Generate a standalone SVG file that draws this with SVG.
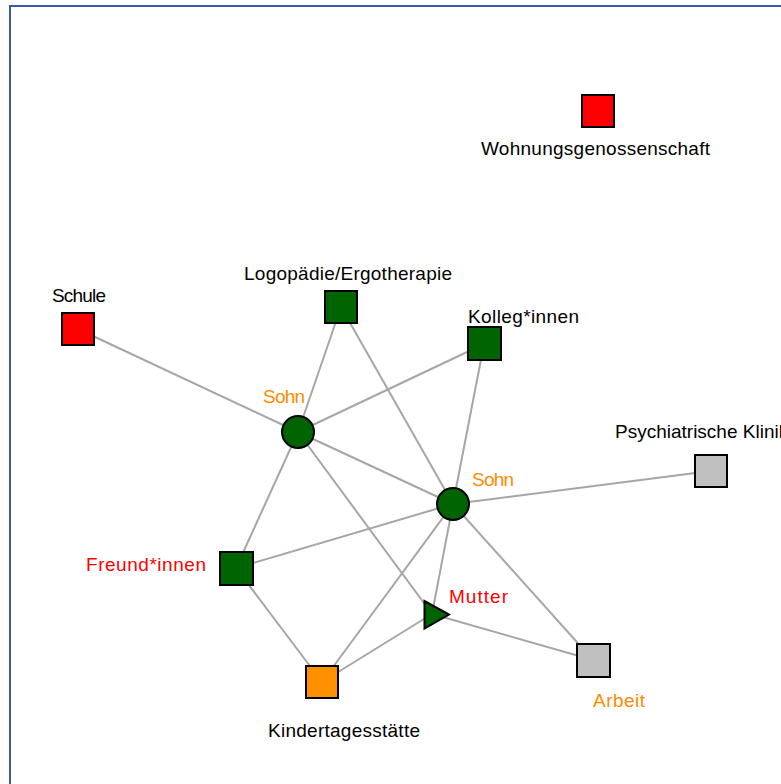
<svg xmlns="http://www.w3.org/2000/svg" width="781" height="784" viewBox="0 0 781 784">
<style>
.lbl{font-family:"Liberation Sans",Arial,sans-serif;font-size:19px;}
.blk{fill:#000}
.red{fill:#ff0000}
.org{fill:#ff8c00}
.node{stroke:#000;stroke-width:2}
.green{fill:#006400}
.rsq{fill:#ff0000}
.gsq{fill:#c0c0c0}
.osq{fill:#ff9000}
#edges line{stroke:#a6a6a6;stroke-width:2}
</style>
<rect x="0" y="0" width="781" height="784" fill="#fff"/>
<rect x="10" y="6" width="820" height="820" fill="none" stroke="#3a5ba0" stroke-width="2"/>
<g id="edges">
<line x1="78" y1="329" x2="298" y2="432"/>
<line x1="341" y1="307" x2="298" y2="432"/>
<line x1="341" y1="307" x2="453" y2="504"/>
<line x1="484" y1="344" x2="298" y2="432"/>
<line x1="484" y1="344" x2="453" y2="504"/>
<line x1="298" y1="432" x2="453" y2="504"/>
<line x1="298" y1="432" x2="236" y2="568"/>
<line x1="298" y1="432" x2="432" y2="614"/>
<line x1="453" y1="504" x2="711" y2="471"/>
<line x1="453" y1="504" x2="236" y2="568"/>
<line x1="453" y1="504" x2="322" y2="682"/>
<line x1="453" y1="504" x2="432" y2="614"/>
<line x1="453" y1="504" x2="593" y2="660"/>
<line x1="236" y1="568" x2="322" y2="682"/>
<line x1="322" y1="682" x2="432" y2="614"/>
<line x1="432" y1="614" x2="593" y2="660"/>
</g>
<g id="wohnungsgenossenschaft">
<rect class="node rsq" x="582" y="95" width="32" height="32"/>
<text class="lbl blk" x="481" y="155" textLength="229">Wohnungsgenossenschaft</text>
</g>
<g id="schule">
<rect class="node rsq" x="62" y="313" width="32" height="32"/>
<text class="lbl blk" x="52" y="302" textLength="54">Schule</text>
</g>
<g id="logopaedie">
<rect class="node green" x="325" y="291" width="32" height="32"/>
<text class="lbl blk" x="244" y="280" textLength="208">Logopädie/Ergotherapie</text>
</g>
<g id="kollegen">
<rect class="node green" x="468" y="327" width="33" height="33"/>
<text class="lbl blk" x="468" y="323" textLength="111">Kolleg*innen</text>
</g>
<g id="sohn1">
<circle class="node green" cx="298" cy="432" r="16"/>
<text class="lbl org" x="263" y="403" textLength="42">Sohn</text>
</g>
<g id="sohn2">
<circle class="node green" cx="453" cy="504" r="16"/>
<text class="lbl org" x="472" y="486" textLength="42">Sohn</text>
</g>
<g id="psychiatrische-klinik">
<rect class="node gsq" x="695" y="455" width="32" height="32"/>
<text class="lbl blk" x="615" y="438">Psychiatrische Klinik</text>
</g>
<g id="freundinnen">
<rect class="node green" x="220" y="552" width="33" height="33"/>
<text class="lbl red" x="86" y="571" textLength="120">Freund*innen</text>
</g>
<g id="mutter">
<polygon class="node green" points="424.5,601 424.5,628.5 449,614.5"/>
<text class="lbl red" x="449" y="603" textLength="59">Mutter</text>
</g>
<g id="arbeit">
<rect class="node gsq" x="577" y="644" width="33" height="33"/>
<text class="lbl org" x="593" y="707" textLength="52">Arbeit</text>
</g>
<g id="kindertagesstaette">
<rect class="node osq" x="306" y="666" width="32" height="32"/>
<text class="lbl blk" x="268" y="737" textLength="152">Kindertagesstätte</text>
</g>
</svg>
